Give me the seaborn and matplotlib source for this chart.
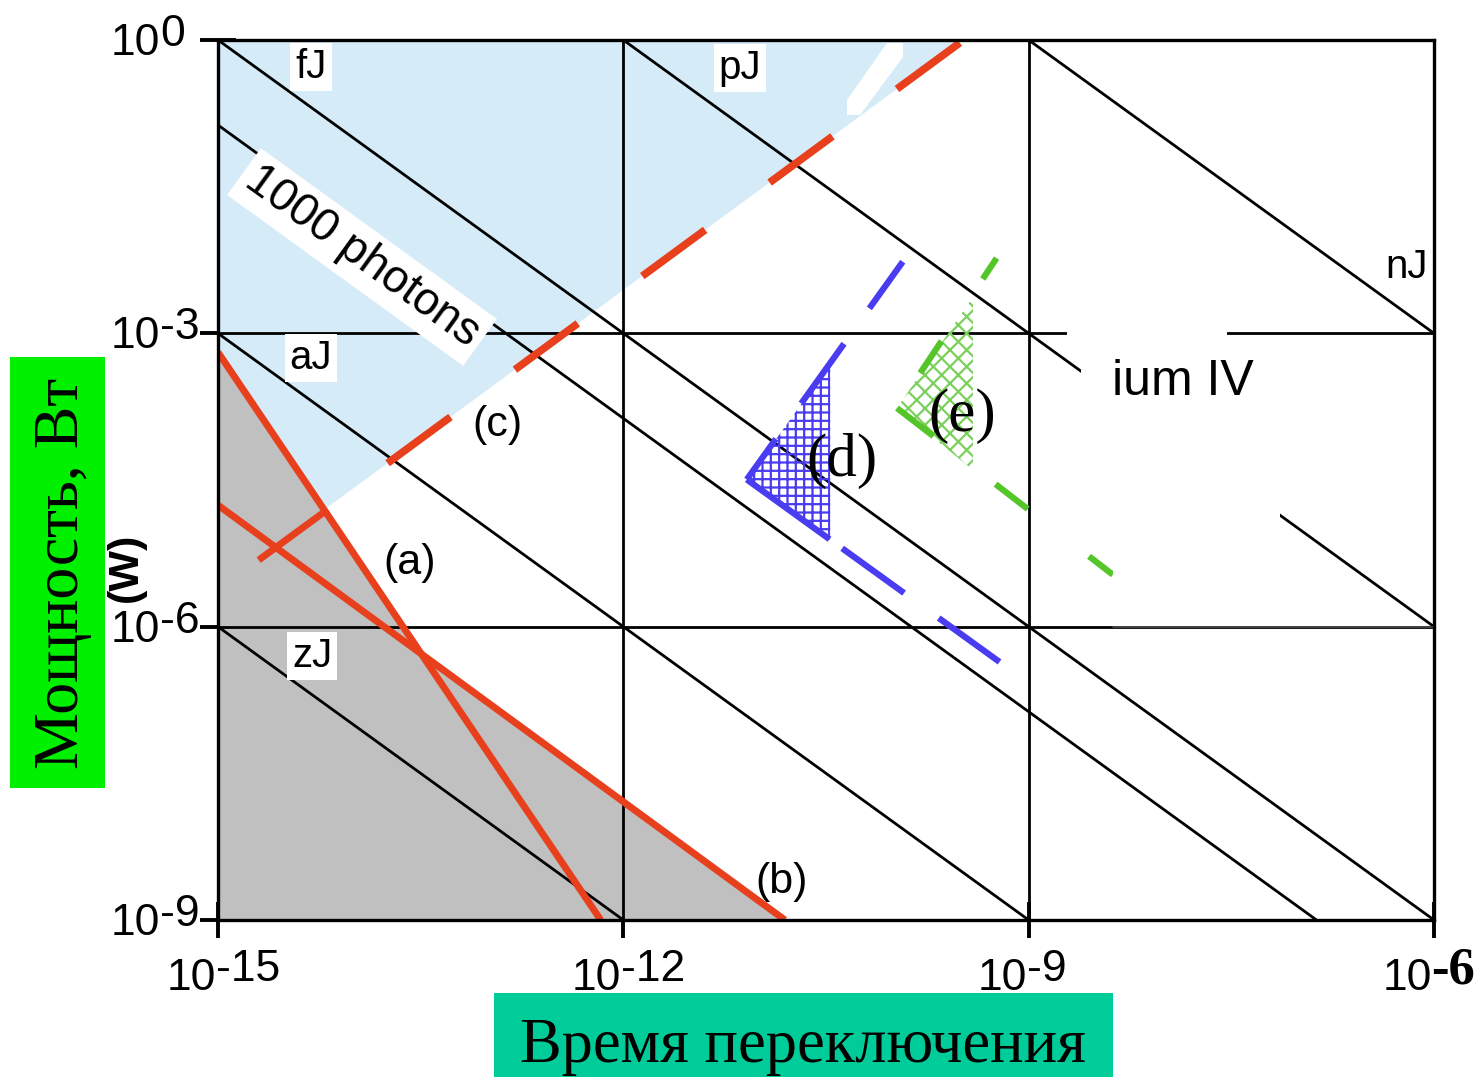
import numpy as np
import pandas as pd
import matplotlib
matplotlib.use("Agg")
import matplotlib.pyplot as plt
import seaborn as sns
from matplotlib.patches import Rectangle, Polygon
from matplotlib.ticker import FixedLocator, NullLocator

# ---------------- data ----------------
# constant-energy lines, P = E / t
energy_names = ["zJ", "aJ", "fJ", "pJ", "nJ"]
energy_values = [1e-21, 1e-18, 1e-15, 1e-12, 1e-9]
photons_1000_energy = 1.35e-16
time_span = [1e-15, 1e-6]

# curves (a), (b), the connector between them, and limit (c)
a_time = [1.0e-15, 6.8e-13]
a_power = [6.4e-4, 1.0e-9]
b_time = [1.0e-15, 1.57e-11]
b_power = [1.75e-5, 1.0e-9]
link_time = [2.0e-15, 6.4e-15]
link_power = [4.8e-6, 1.56e-5]
c_time = [1.8e-14, 3.3e-10]
c_power = [4.7e-5, 1.0]

# device family (d)
d_upper_time = [8.2e-12, 1.17e-10]
d_upper_power = [3.2e-5, 5.4e-3]
d_lower_time = [8.2e-12, 6.1e-10]
d_lower_power = [3.2e-5, 4.35e-7]
d_zone_time = [8.2e-12, 3.4e-11, 3.4e-11]
d_zone_power = [3.2e-5, 4.85e-4, 7.7e-6]

# device family (e)
e_upper_time = [1.06e-10, 5.8e-10]
e_upper_power = [1.72e-4, 5.9e-3]
e_lower_time = [1.06e-10, 4.2e-9]
e_lower_power = [1.72e-4, 3.4e-6]
e_zone_time = [1.06e-10, 3.87e-10, 3.87e-10]
e_zone_power = [1.72e-4, 2.35e-3, 4.0e-5]

x_ticks = [1e-15, 1e-12, 1e-9, 1e-6]
x_tick_exps = ["-15", "-12", "-9", "-6"]
y_ticks = [1e0, 1e-3, 1e-6, 1e-9]
y_tick_exps = ["0", "-3", "-6", "-9"]

# ---------------- style ----------------
sns.set_theme(style="white")
plt.rcParams["font.family"] = ["Liberation Sans", "DejaVu Sans"]
plt.rcParams["text.color"] = "black"
plt.rcParams["lines.scale_dashes"] = False
plt.rcParams["hatch.linewidth"] = 1.6

BLUE_FILL = "#d6ebf8"
GRAY_FILL = "#c0c0c0"
RED = "#e8401c"
BLUE = "#4a3cf0"
GREEN = "#55c62a"
PX = 0.72  # points per pixel at dpi 100

W, H = 1483, 1077
AX_L, AX_T, AX_R, AX_B = 218, 40, 1434, 920

fig = plt.figure(figsize=(W / 100, H / 100), dpi=100)
fig.patch.set_facecolor("white")
ax = fig.add_axes([AX_L / W, 1 - AX_B / H, (AX_R - AX_L) / W, (AX_B - AX_T) / H])
ax.set_facecolor("white")
ax.set_xscale("log")
ax.set_yscale("log")
ax.set_xlim(1e-15, 1e-6)
ax.set_ylim(1e-9, 1e0)


def fx(px):
    return px / W


def fy(py):
    return 1 - py / H


def axx(px):
    return (px - AX_L) / (AX_R - AX_L)


def axy(py):
    return (AX_B - py) / (AX_B - AX_T)


def loglin(ts, ps):
    k = (np.log10(ps[1]) - np.log10(ps[0])) / (np.log10(ts[1]) - np.log10(ts[0]))
    return k, np.log10(ps[0]) - k * np.log10(ts[0])


# ---------------- shaded regions ----------------
ka, ba = loglin(a_time, a_power)
kb, bb = loglin(b_time, b_power)
kc, bc = loglin(c_time, c_power)
lt_ac = (bc - ba) / (ka - kc)
lt_ab = (bb - ba) / (ka - kb)

blue_x = [time_span[0], c_time[1], 10 ** lt_ac, a_time[0]]
blue_y = [1.0, 1.0, 10 ** (ka * lt_ac + ba), a_power[0]]
ax.fill(blue_x, blue_y, color=BLUE_FILL, lw=0, zorder=1)

gray_x = [time_span[0], a_time[0], 10 ** lt_ab, b_time[1]]
gray_y = [1e-9, a_power[0], 10 ** (ka * lt_ab + ba), 1e-9]
ax.fill(gray_x, gray_y, color=GRAY_FILL, lw=0, zorder=1)

stripe = [(847, 100), (887, 43), (903, 43), (903, 57), (860, 115), (847, 115)]
ax.add_patch(Polygon([(axx(x), axy(y)) for x, y in stripe], closed=True,
                     transform=ax.transAxes, fc="white", lw=0, zorder=1.5))

# decade grid
for t in [1e-12, 1e-9]:
    ax.axvline(t, color="black", lw=2.0, zorder=2)
for p in [1e-3, 1e-6]:
    ax.axhline(p, color="black", lw=2.0, zorder=2)

# ---------------- energy lines ----------------
rows = []
for name, E in zip(energy_names + ["1000 photons"], energy_values + [photons_1000_energy]):
    for t in time_span:
        rows.append({"line": name, "time": t, "power": E / t})
energy_df = pd.DataFrame(rows)
sns.lineplot(data=energy_df, x="time", y="power", units="line", estimator=None,
             color="black", lw=2.0, ax=ax, legend=False, zorder=3)

# ---------------- hatched zones ----------------
ax.fill(d_zone_time, d_zone_power, facecolor="none", edgecolor=BLUE, lw=0,
        hatch="++", zorder=3)
ax.fill(e_zone_time, e_zone_power, facecolor="none", edgecolor="#7ad05a", lw=0,
        hatch="xx", zorder=3)

# ---------------- red curves ----------------
red_df = pd.DataFrame({
    "curve": ["a"] * 2 + ["b"] * 2 + ["link"] * 2,
    "time": a_time + b_time + link_time,
    "power": a_power + b_power + link_power,
})
sns.lineplot(data=red_df, x="time", y="power", units="curve", estimator=None,
             sort=False, color=RED, lw=5, ax=ax, legend=False, zorder=4,
             solid_capstyle="butt")

ax.plot(c_time, c_power, color=RED, lw=5.5, zorder=4, dash_capstyle="butt",
        linestyle=(0, (78 * PX, 80 * PX)))

# ---------------- (d) and (e) boundaries ----------------
ax.plot(d_upper_time, d_upper_power, color=BLUE, lw=4.5, zorder=4, dash_capstyle="butt",
        linestyle=(0, tuple(v * PX for v in (50, 43.5, 73.5, 43.5, 57.5, 300))))
ax.plot(d_lower_time, d_lower_power, color=BLUE, lw=4.5, zorder=4, dash_capstyle="butt",
        linestyle=(0, tuple(v * PX for v in (102, 15.6, 76.4, 42.7, 75, 300))))
ax.plot(e_upper_time, e_upper_power, color=GREEN, lw=4.5, zorder=4, dash_capstyle="butt",
        linestyle=(0, tuple(v * PX for v in (0.01, 42, 38.5, 74.5, 25, 300))))
ax.plot(e_lower_time, e_lower_power, color=GREEN, lw=4.5, zorder=4, dash_capstyle="butt",
        linestyle=(0, tuple(v * PX for v in (46, 78.6, 40.6, 77.4, 60, 300))))

# ---------------- blanked area around the processor label ----------------
for x0, y0, x1, y1 in [(1067, 325, 1113, 341), (1081, 341, 1113, 540),
                       (1113, 325, 1227, 624), (1227, 341, 1280, 624)]:
    ax.add_patch(Rectangle((axx(x0), axy(y1)), (x1 - x0) / (AX_R - AX_L),
                           (y1 - y0) / (AX_B - AX_T), transform=ax.transAxes,
                           fc="white", lw=0, zorder=5))
ax.axhline(1e-6, xmin=axx(1113), xmax=1, color="#4d4d4d", lw=1.2, zorder=5.5)

# ---------------- axes frame & ticks ----------------
for s in ax.spines.values():
    s.set_linewidth(2.4)
    s.set_color("black")
    s.set_zorder(6)
ax.xaxis.set_major_locator(FixedLocator(x_ticks))
ax.yaxis.set_major_locator(FixedLocator(y_ticks))
ax.xaxis.set_minor_locator(NullLocator())
ax.yaxis.set_minor_locator(NullLocator())
ax.tick_params(which="major", direction="inout", length=26, width=2.8, color="black",
               left=True, bottom=True, top=False, right=False,
               labelleft=False, labelbottom=False)
ax.set_xlabel("")
ax.set_ylabel("")

TICK_FS = 32
for t, e in zip(x_ticks, x_tick_exps):
    ax.annotate("10", xy=(t, 0), xycoords=("data", "axes fraction"), xytext=(-2, -70),
                textcoords="offset pixels", ha="right", va="baseline",
                fontsize=TICK_FS, annotation_clip=False)
    if e == "-6":
        ax.annotate(e, xy=(t, 0), xycoords=("data", "axes fraction"), xytext=(-3, -64),
                    textcoords="offset pixels", ha="left", va="baseline",
                    fontsize=38, fontweight="bold", family="Liberation Serif",
                    annotation_clip=False)
    else:
        ax.annotate(e, xy=(t, 0), xycoords=("data", "axes fraction"), xytext=(-2, -61),
                    textcoords="offset pixels", ha="left", va="baseline",
                    fontsize=TICK_FS, annotation_clip=False)
for p, e in zip(y_ticks, y_tick_exps):
    ax.annotate("10", xy=(0, p), xycoords=("axes fraction", "data"), xytext=(-58, -15),
                textcoords="offset pixels", ha="right", va="baseline",
                fontsize=TICK_FS, annotation_clip=False)
    ax.annotate(e, xy=(0, p), xycoords=("axes fraction", "data"), xytext=(-58, -6),
                textcoords="offset pixels", ha="left", va="baseline",
                fontsize=TICK_FS, annotation_clip=False)

# ---------------- in-plot labels ----------------
box = dict(boxstyle="square,pad=0.12", fc="white", ec="none")
for name, (px, py) in zip(energy_names, [(312, 656), (311, 358), (311, 67), (740, 68), (1407, 267)]):
    fig.text(fx(px), fy(py), name, fontsize=29, ha="center", va="center",
             bbox=box if name != "nJ" else None, zorder=7)

fig.text(fx(362), fy(257), "1000 photons", fontsize=33, rotation=-35.9,
         rotation_mode="anchor", ha="center", va="center", zorder=7,
         bbox=dict(boxstyle="square,pad=0.15", fc="white", ec="none"))

for lab, (px, py) in zip(["(a)", "(b)", "(c)"], [(410, 563), (782, 882), (497, 425)]):
    fig.text(fx(px), fy(py), lab, fontsize=31, ha="center", va="center", zorder=7)
for lab, (px, py) in zip(["(d)", "(e)"], [(842, 461), (962, 416)]):
    fig.text(fx(px), fy(py), lab, fontsize=44, ha="center", va="center",
             family="Liberation Serif", zorder=7)

fig.text(fx(1112), fy(395), "ium IV", fontsize=36, ha="left", va="baseline", zorder=7)

# ---------------- axis titles on coloured panels ----------------
fig.text(fx(126), fy(567), "(W)", fontsize=31, fontweight="bold", rotation=90,
         ha="center", va="center", zorder=1)
fig.patches.append(Rectangle((fx(10), fy(788)), (105 - 10) / W, (788 - 357) / H,
                             transform=fig.transFigure, fc="#00f000", ec="none", zorder=2))
fig.text(fx(63), fy(573), "Мощность, Вт", fontsize=46, rotation=90,
         family="Liberation Serif", ha="center", va="center", zorder=3)

fig.patches.append(Rectangle((fx(494), 0), (1113 - 494) / W, (1077 - 993) / H,
                             transform=fig.transFigure, fc="#00cc99", ec="none", zorder=2))
fig.text(fx(803), fy(1062), "Время переключения", fontsize=45,
         family="Liberation Serif", ha="center", va="baseline", zorder=3)

fig.savefig("out.png", dpi=100)
